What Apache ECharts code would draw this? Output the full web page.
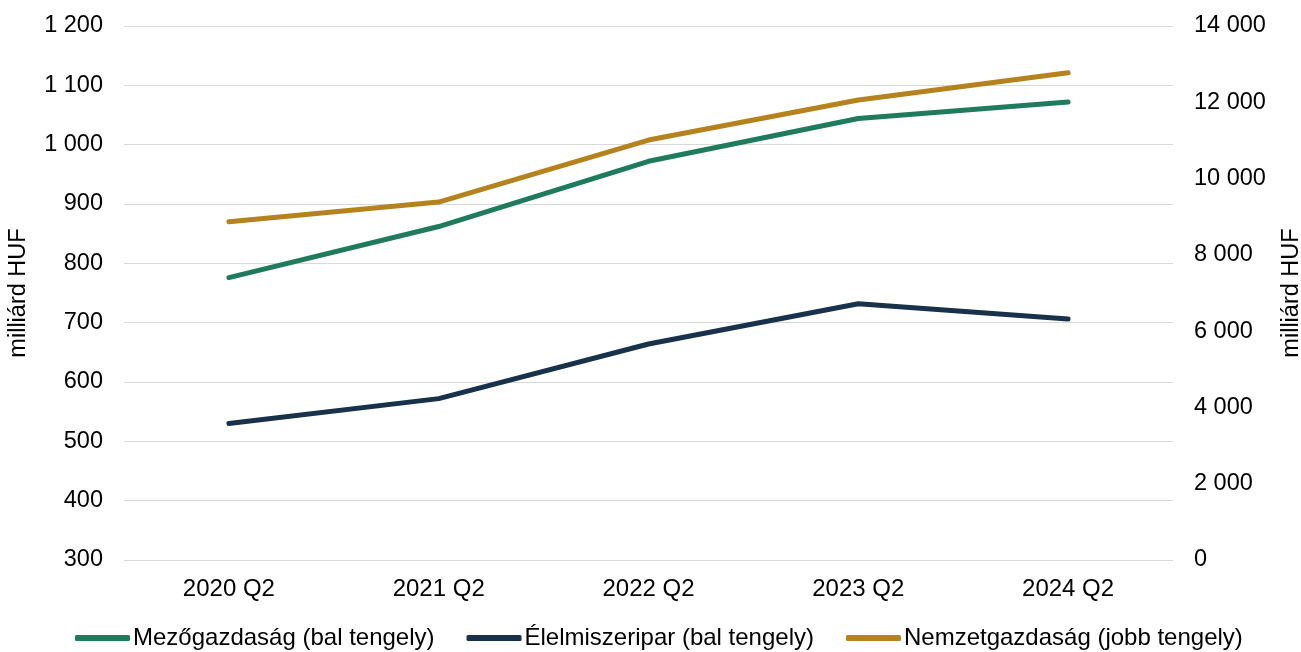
<!DOCTYPE html>
<html>
<head>
<meta charset="utf-8">
<script src="https://cdn.jsdelivr.net/npm/echarts@6/dist/echarts.min.js"></script>
<style>html,body{margin:0;padding:0;background:#fff;}#c{width:1301px;height:652px;}</style>
</head>
<body>
<div id="c"></div>
<script>
const categories = ['2020 Q2', '2021 Q2', '2022 Q2', '2023 Q2', '2024 Q2'];
const mezogazdasag = [776, 862, 972, 1044, 1072];
const elelmiszeripar = [530, 572, 664, 732, 706];
const nemzetgazdasag = [8866, 9383, 11010, 12059, 12775];
const seriesNames = ['Mezőgazdaság (bal tengely)', 'Élelmiszeripar (bal tengely)', 'Nemzetgazdaság (jobb tengely)'];
const axisName = 'milliárd HUF';

const FONT = '"Liberation Sans", Arial, sans-serif';
const fmt = v => String(v).replace(/\B(?=(\d{3})+(?!\d))/g, ' ');
const colors = ['#1e7b5c', '#17324a', '#b5821e'];

const chart = echarts.init(document.getElementById('c'));
chart.setOption({
  animation: false,
  textStyle: { fontFamily: FONT },
  grid: { left: 124, right: 128, top: 26, bottom: 92, outerBoundsMode: 'none', containLabel: false },
  legend: {
    bottom: 2,
    left: 75,
    padding: 0,
    itemWidth: 55,
    itemHeight: 6,
    itemGap: 32,
    icon: 'roundRect',
    textStyle: { fontSize: 24, color: '#000', fontFamily: FONT, padding: [0, 0, 0, -2] },
    data: seriesNames
  },
  xAxis: {
    type: 'category',
    data: categories,
    boundaryGap: true,
    axisLine: { show: false },
    axisTick: { show: false },
    axisLabel: { fontSize: 24, color: '#000', margin: 17 }
  },
  yAxis: [
    {
      type: 'value', min: 300, max: 1200, interval: 100,
      name: axisName, nameLocation: 'middle', nameRotate: 90, nameGap: 93,
      nameTextStyle: { fontSize: 23.5, color: '#000' },
      axisLine: { show: false }, axisTick: { show: false },
      axisLabel: { fontSize: 23.5, color: '#000', margin: 21, padding: [6, 0, 0, 0], formatter: fmt },
      splitLine: { lineStyle: { color: '#d9d9d9', width: 1 } }
    },
    {
      type: 'value', min: 0, max: 14000, interval: 2000, position: 'right',
      name: axisName, nameLocation: 'middle', nameRotate: 90, nameGap: 107,
      nameTextStyle: { fontSize: 23.5, color: '#000' },
      axisLine: { show: false }, axisTick: { show: false },
      axisLabel: { fontSize: 23.5, color: '#000', margin: 21, padding: [6, 0, 0, 0], formatter: fmt },
      splitLine: { show: false }
    }
  ],
  series: [
    { name: seriesNames[0], type: 'line', yAxisIndex: 0, data: mezogazdasag, showSymbol: false, symbol: 'none',
      itemStyle: { color: colors[0] }, lineStyle: { color: colors[0], width: 5, cap: 'round', join: 'round' } },
    { name: seriesNames[1], type: 'line', yAxisIndex: 0, data: elelmiszeripar, showSymbol: false, symbol: 'none',
      itemStyle: { color: colors[1] }, lineStyle: { color: colors[1], width: 5, cap: 'round', join: 'round' } },
    { name: seriesNames[2], type: 'line', yAxisIndex: 1, data: nemzetgazdasag, showSymbol: false, symbol: 'none',
      itemStyle: { color: colors[2] }, lineStyle: { color: colors[2], width: 5, cap: 'round', join: 'round' } }
  ]
});
</script>
</body>
</html>
